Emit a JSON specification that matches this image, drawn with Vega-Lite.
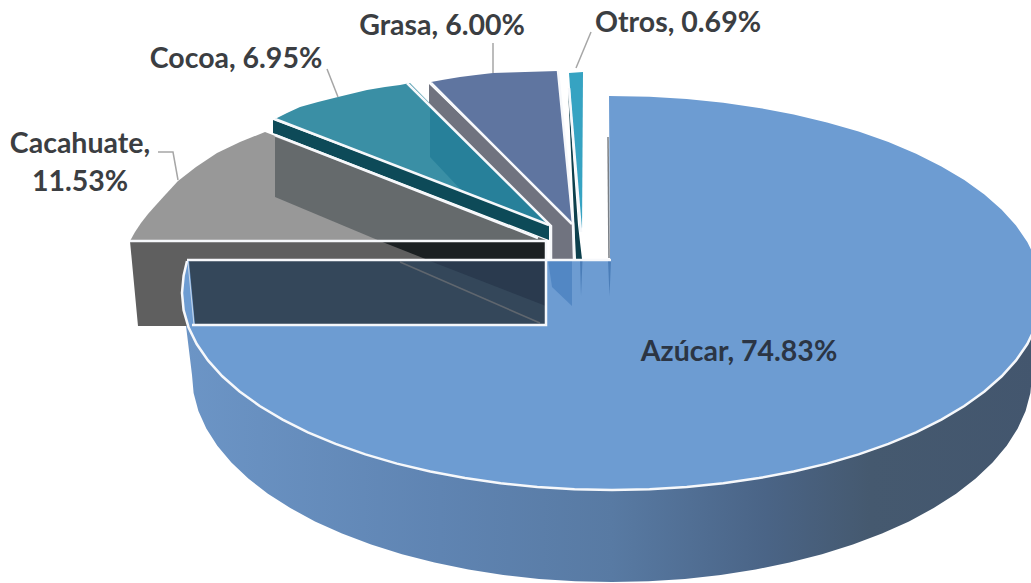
{
"$schema":"https://vega.github.io/schema/vega-lite/v6.json",
"width":1031,"height":583,"padding":0,"autosize":{"type":"none"},
"background":"white",
"view":{"stroke":null},
"projection":{"type":"identity","scale":1,"translate":[0,0]},
"resolve":{"scale":{"color":"independent"}},
"datasets":{
"wall":[{"part":"Azúcar lateral","geo":{"type":"Polygon","coordinates":[[[182,293],[192,375],[193.6,393],[198.4,410.9],[206.3,428.6],[217.3,445.8],[231.4,462.5],[248.3,478.5],[267.9,493.7],[290.3,508],[315,521.4],[342,533.6],[371.1,544.6],[402,554.3],[434.5,562.6],[468.4,569.5],[503.3,574.9],[539.1,578.9],[575.4,581.2],[612,582],[648.6,581.2],[684.9,578.9],[720.7,574.9],[755.6,569.5],[789.5,562.6],[822,554.3],[852.9,544.6],[882,533.6],[909,521.4],[933.7,508],[956.1,493.7],[975.7,478.5],[992.6,462.5],[1006.7,445.8],[1017.7,428.6],[1025.6,410.9],[1030.4,393],[1032,375],[1042,293],[182,293]]]}}],
"faces":[
{"part":"Cacahuate","share":11.53,"geo":{"type":"Polygon","coordinates":[[[130,241],[135,232],[141,223],[148,214],[156,205],[166,194],[178,181],[196,167],[217,153],[240,142],[265,132],[546,241],[130,241]]]}},
{"part":"Cacahuate frente","geo":{"type":"Polygon","coordinates":[[[130,241],[546,241],[546,326],[138,326],[130,241]]]}},
{"part":"Cacahuate interior","geo":{"type":"Polygon","coordinates":[[[275,137],[546,240],[380,241],[275,197],[275,137]]]}},
{"part":"Azúcar","share":74.83,"geo":{"type":"Polygon","coordinates":[[[610,260],[609,96],[649.5,96.7],[686.7,99],[723.3,102.7],[759,107.9],[793.7,114.5],[827,122.4],[858.6,131.6],[888.4,142.1],[916.1,153.7],[941.4,166.4],[964.3,180],[984.4,194.5],[1001.7,209.7],[1016,225.6],[1027.3,242],[1035.5,258.8],[1040.4,275.8],[1042,293],[1040.4,310.2],[1035.5,327.2],[1027.3,344],[1016,360.4],[1001.7,376.3],[984.4,391.5],[964.3,406],[941.4,419.6],[916.1,432.3],[888.4,443.9],[858.6,454.4],[827,463.6],[793.7,471.5],[759,478.1],[723.3,483.3],[686.7,487],[649.5,489.3],[612,490],[574.5,489.3],[537.3,487],[500.7,483.3],[465,478.1],[430.3,471.5],[397,463.6],[365.4,454.4],[335.6,443.9],[307.9,432.3],[282.6,419.6],[259.7,406],[239.6,391.5],[222.3,376.3],[208,360.4],[196.7,344],[188.5,327.2],[183.6,310.2],[182,293],[183.6,275.8],[187,261],[610,260]]]}},
{"part":"Reflejo oscuro","geo":{"type":"Polygon","coordinates":[[[380,241],[546,241],[546,260],[428,260],[380,241]]]}},
{"part":"Panel","geo":{"type":"Polygon","coordinates":[[[189,261],[546,261],[546,325],[195,325],[189,261]]]}},
{"part":"Panel sombra","geo":{"type":"Polygon","coordinates":[[[430,261],[546,261],[546,306],[430,261]]]}},
{"part":"Reflejo azul","geo":{"type":"Polygon","coordinates":[[[548,260],[572,260],[572,306],[552,287],[548,260]]]}},
{"part":"Reflejo azul fino","geo":{"type":"Polygon","coordinates":[[[580,260],[582.5,260],[581,296],[580,260]]]}},
{"part":"Reflejo azul fino","geo":{"type":"Polygon","coordinates":[[[608,260],[611,260],[609.5,296],[608,260]]]}},
{"part":"Cocoa","share":6.95,"geo":{"type":"Polygon","coordinates":[[[275,119],[287,113],[300,107],[318,102],[338,97],[367,90],[385,87],[400,85],[410,83],[549,225],[275,119]]]}},
{"part":"Cocoa sombra","geo":{"type":"Polygon","coordinates":[[[430,105],[549,225],[483,200],[463,192],[430,157],[430,105]]]}},
{"part":"Cocoa frente","geo":{"type":"Polygon","coordinates":[[[273,120],[549,224],[549,240],[273,133],[273,120]]]}},
{"part":"Grasa frente","geo":{"type":"Polygon","coordinates":[[[429,84],[429,105],[551,226],[551,259],[573,259],[573,224],[429,84]]]}},
{"part":"Grasa","share":6.0,"geo":{"type":"Polygon","coordinates":[[[431,82],[445,79.5],[460,77],[476,75],[493,73],[509,72.5],[525,72],[558,71],[573,224],[431,82]]]}},
{"part":"Otros frente","geo":{"type":"Polygon","coordinates":[[[568,88],[578,225],[582,259],[576,259],[568,88]]]}},
{"part":"Otros","share":0.69,"geo":{"type":"Polygon","coordinates":[[[569,73],[583,72],[582,232],[580,232],[569,73]]]}}
],
"edges":[
{"part":"borde Azúcar","geo":{"type":"LineString","coordinates":[[187,261],[183.6,275.8],[182,293],[183.6,310.2],[188.5,327.2],[196.7,344],[208,360.4],[222.3,376.3],[239.6,391.5],[259.7,406],[282.6,419.6],[307.9,432.3],[335.6,443.9],[365.4,454.4],[397,463.6],[430.3,471.5],[465,478.1],[500.7,483.3],[537.3,487],[574.5,489.3],[612,490],[649.5,489.3],[686.7,487],[723.3,483.3],[759,478.1],[793.7,471.5],[827,463.6],[858.6,454.4],[888.4,443.9],[916.1,432.3],[941.4,419.6],[964.3,406],[984.4,391.5],[1001.7,376.3],[1016,360.4],[1027.3,344],[1035.5,327.2],[1040.4,310.2],[1042,293]]}},
{"part":"línea 260","geo":{"type":"LineString","coordinates":[[187,260],[611,260]]}},
{"part":"línea 241","geo":{"type":"LineString","coordinates":[[130,241],[546,241],[546,325],[192,325]]}},
{"part":"interior","geo":{"type":"LineString","coordinates":[[275,135],[538,238]]}},
{"part":"Cocoa inferior","geo":{"type":"LineString","coordinates":[[275,119],[549,225]]}},
{"part":"Cocoa derecha","geo":{"type":"LineString","coordinates":[[407,83],[551,226],[551,259]]}},
{"part":"Grasa inferior","geo":{"type":"LineString","coordinates":[[431,83],[572,224]]}},
{"part":"Grasa derecha","geo":{"type":"LineString","coordinates":[[558,71],[573,224],[574,259]]}},
{"part":"Otros izquierda","geo":{"type":"LineString","coordinates":[[569,88],[581,232]]}}
],
"thin":[
{"part":"arista","geo":{"type":"LineString","coordinates":[[608,137],[609,258]]}}
],
"faint":[
{"part":"diagonal","geo":{"type":"LineString","coordinates":[[400,262],[540,323]]}}
],
"hairline":[
{"part":"panel izquierda","geo":{"type":"LineString","coordinates":[[188,262],[194,325]]}}
],
"leaders":[
{"part":"Cacahuate","geo":{"type":"LineString","coordinates":[[158,152],[173,152],[178,180]]}},
{"part":"Cocoa","geo":{"type":"LineString","coordinates":[[327,69],[338,97]]}},
{"part":"Grasa","geo":{"type":"LineString","coordinates":[[493,43],[493,73]]}},
{"part":"Otros","geo":{"type":"LineString","coordinates":[[591,32],[576,68]]}}
],
"labels":[
{"label":"Azúcar, 74.83%","lon":739,"lat":352,"tone":"inner"},
{"label":"Grasa, 6.00%","lon":442,"lat":26,"tone":"outer"},
{"label":"Otros, 0.69%","lon":678,"lat":23,"tone":"outer"},
{"label":"Cocoa, 6.95%","lon":236,"lat":59,"tone":"outer"},
{"label":"Cacahuate,","lon":80,"lat":144,"tone":"outer"},
{"label":"11.53%","lon":80,"lat":182,"tone":"outer"}
]
},
"layer":[
{"data":{"name":"wall"},
 "mark":{"type":"geoshape","strokeWidth":0,"fill":{"gradient":"linear","x1":0,"y1":0,"x2":1,"y2":0,"stops":[{"offset":0,"color":"#6C95C6"},{"offset":0.3,"color":"#5F84B2"},{"offset":0.5,"color":"#587AA3"},{"offset":0.68,"color":"#4A6486"},{"offset":0.8,"color":"#45596F"},{"offset":1,"color":"#43566E"}]}},
 "encoding":{"shape":{"field":"geo","type":"geojson"}}},
{"data":{"name":"faces"},
 "mark":{"type":"geoshape","strokeWidth":0,"opacity":1},
 "encoding":{"shape":{"field":"geo","type":"geojson"},
  "color":{"field":"part","type":"nominal","legend":null,"scale":{
   "domain":["Cacahuate","Cacahuate frente","Cacahuate interior","Azúcar","Reflejo oscuro","Panel","Panel sombra","Reflejo azul","Reflejo azul fino","Cocoa","Cocoa sombra","Cocoa frente","Grasa frente","Grasa","Otros frente","Otros"],
   "range":["#989898","#5F5F5F","#656A6C","#6D9CD2","#1B2022","#34475A","#2A3A4E","#5287C4","#4A7DB8","#3A8FA5","#27809A","#0D4A58","#70737F","#5F75A0","#0C3F4C","#36A3C2"]}}}},
{"data":{"name":"faint"},
 "mark":{"type":"geoshape","filled":false,"stroke":"#5F666E","strokeWidth":1.5},
 "encoding":{"shape":{"field":"geo","type":"geojson"}}},
{"data":{"name":"thin"},
 "mark":{"type":"geoshape","filled":false,"stroke":"#7A7F85","strokeWidth":1.5},
 "encoding":{"shape":{"field":"geo","type":"geojson"}}},
{"data":{"name":"hairline"},
 "mark":{"type":"geoshape","filled":false,"stroke":"#C9D8EA","strokeWidth":1},
 "encoding":{"shape":{"field":"geo","type":"geojson"}}},
{"data":{"name":"edges"},
 "mark":{"type":"geoshape","filled":false,"stroke":"#F6F8FB","strokeWidth":2.5},
 "encoding":{"shape":{"field":"geo","type":"geojson"}}},
{"data":{"name":"leaders"},
 "mark":{"type":"geoshape","filled":false,"stroke":"#A6A6A6","strokeWidth":1.5},
 "encoding":{"shape":{"field":"geo","type":"geojson"}}},
{"data":{"name":"labels"},
 "mark":{"type":"text","font":"Lato","fontWeight":"bold","fontSize":28.5,"align":"center","baseline":"middle","opacity":1},
 "encoding":{"longitude":{"field":"lon","type":"quantitative"},"latitude":{"field":"lat","type":"quantitative"},
  "text":{"field":"label","type":"nominal"},
  "color":{"field":"tone","type":"nominal","legend":null,"scale":{"domain":["inner","outer"],"range":["#2B3544","#3B3E42"]}}}}
]
}
